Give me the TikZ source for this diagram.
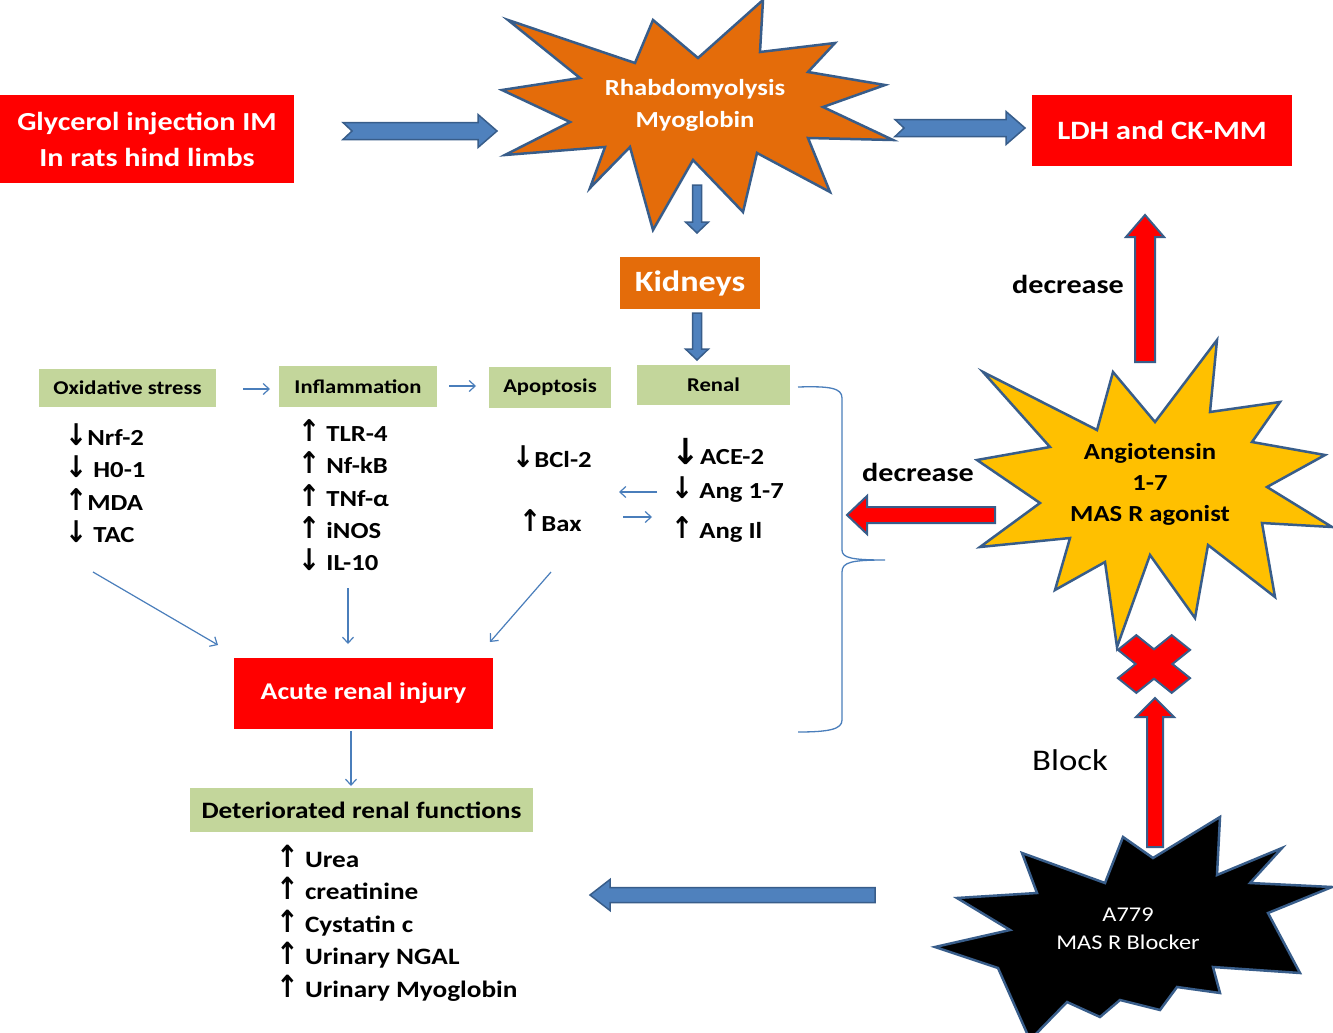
\documentclass[tikz,border=0pt]{standalone}
\usepackage{fontspec}
\usepackage{graphicx}
\setmainfont{Carlito}[FakeStretch=1.16]
\newfontfamily\arrfont{DejaVu Sans}
\usetikzlibrary{calc,arrows.meta}
\definecolor{bfill}{HTML}{4F81BD}
\definecolor{bline}{HTML}{385D8A}
\definecolor{rred}{HTML}{FF0000}
\definecolor{orng}{HTML}{E46C0A}
\definecolor{ylw}{HTML}{FFC000}
\definecolor{grn}{HTML}{C3D69B}
\definecolor{thinb}{HTML}{4A7EBB}
\newcommand{\uA}{\scalebox{1.15}[1.3]{\arrfont\bfseries ↑}}
\newcommand{\dA}{\scalebox{1.15}[1.3]{\arrfont\bfseries ↓}}
% [style]{from}{to}{shaft half}{head half}{head length}{notch}
\newcommand{\fatarrow}[7][]{%
  \coordinate (faB) at ($(#3)!#6!(#2)$);
  \path[#1] ($(#2)!#4!90:(#3)$) -- ($(faB)!#4!90:(#3)$) -- ($(faB)!#5!90:(#3)$) -- (#3)
    -- ($(faB)!#5!-90:(#3)$) -- ($(faB)!#4!-90:(#3)$) -- ($(#2)!#4!-90:(#3)$)
    -- ($(#2)!#7!(#3)$) -- cycle;
}
\tikzset{
  bluefat/.style={fill=bfill, draw=bline, line width=1.5pt, line join=miter},
  redfat/.style={fill=rred, draw=bline, line width=2pt, line join=miter},
  starline/.style={draw=bline, line width=2.5pt, line join=miter},
  redbox/.style={fill=rred, text=white, inner sep=0pt, font=\bfseries},
  grnbox/.style={fill=grn, text=black, inner sep=0pt, font=\bfseries},
  listtxt/.style={align=left, inner sep=0pt, anchor=north west, font=\bfseries},
  thinarrow/.style={draw=thinb, line width=1.2pt, -{Straight Barb[length=6pt,width=11pt]}},
}
\begin{document}
\begin{tikzpicture}[x=1pt,y=-1pt]
\useasboundingbox (0,0) rectangle (1333,1033);
\fill[white] (0,0) rectangle (1333,1033);

% stars
\draw[starline, fill=orng] (508,20) -- (635,63) -- (653,20) -- (698,58) -- (763,0) -- (760,52) -- (835,43) -- (808,72) -- (885,85) -- (823,107) -- (893,140) -- (808,138) -- (830,192) -- (757,153) -- (743,212) -- (693,160) -- (653,230) -- (630,147) -- (590,188) -- (605,147) -- (505,155) -- (570,122) -- (502,90) -- (580,78) -- cycle;
\draw[starline, fill=ylw] (983,372) -- (1097,430) -- (1113,372) -- (1155,422) -- (1217,340) -- (1210,412) -- (1280,402) -- (1252,442) -- (1325,455) -- (1267,487) -- (1332,527) -- (1262,523) -- (1275,597) -- (1208,545) -- (1195,618) -- (1150,555) -- (1117,647) -- (1105,562) -- (1055,590) -- (1070,538) -- (980,547) -- (1040,503) -- (977,460) -- (1050,447) -- cycle;
\draw[starline, fill=black] (957,898) -- (1037,893) -- (1022,853) -- (1105,883) -- (1123,837) -- (1153,858) -- (1220,817) -- (1217,875) -- (1282,848) -- (1250,883) -- (1332,887) -- (1268,913) -- (1300,973) -- (1213,967) -- (1220,993) -- (1177,987) -- (1160,1010) -- (1120,1000) -- (1100,1017) -- (1067,1002) -- (1030,1040) -- (998,968) -- (935,947) -- (1010,930) -- cycle;

% boxes
\node[redbox, minimum width=294pt, minimum height=88pt, align=center,
  font=\bfseries\fontsize{26}{36}\selectfont] (gly) at (147,139) {Glycerol injection IM\\In rats hind limbs};
\node[align=center, text=white, font=\bfseries\fontsize{23}{32}\selectfont] (rhab) at (695,105) {Rhabdomyolysis\\Myoglobin};
\node[redbox, minimum width=260pt, minimum height=71pt, font=\bfseries\fontsize{26.5}{32}\selectfont] (ldh) at (1162,130) {LDH and CK-MM};
\node[fill=orng, text=white, inner sep=0pt, minimum width=140pt, minimum height=52pt, font=\bfseries\fontsize{29.5}{34}\selectfont] (kid) at (690,283) {Kidneys};

\node[grnbox, minimum width=177pt, minimum height=38pt, font=\bfseries\fontsize{19.5}{22}\selectfont] (ox) at (127.5,388) {Oxidative stress};
\node[grnbox, minimum width=158pt, minimum height=41pt, font=\bfseries\fontsize{19.5}{22}\selectfont] (infl) at (358,386.5) {Inflammation};
\node[grnbox, minimum width=122pt, minimum height=41pt, font=\bfseries\fontsize{19.5}{22}\selectfont] (apop) at (550,387.5) {Apoptosis};
\node[grnbox, minimum width=153pt, minimum height=40pt, font=\bfseries\fontsize{19.5}{22}\selectfont] (ren) at (713.5,385) {Renal};

\node[listtxt, font=\bfseries\fontsize{23}{32.3}\selectfont] (oxl) at (65,423.5) {\dA Nrf-2\\\dA\ H0-1\\\uA MDA\\\dA\ TAC};
\node[listtxt, font=\bfseries\fontsize{23}{32.3}\selectfont] (infll) at (298,419.5) {\uA\ TLR-4\\\uA\ Nf-kB\\\uA\ TNf-α\\\uA\ iNOS\\\dA\ IL-10};
\node[listtxt, font=\bfseries\fontsize{23}{32}\selectfont] (bcl) at (512,445.5) {\dA BCl-2};
\node[listtxt, font=\bfseries\fontsize{23}{32}\selectfont] (bax) at (519,509) {\uA Bax};
\node[listtxt, font=\bfseries\fontsize{23}{34}\selectfont] (renl) at (671,438) {\scalebox{1.3}[1.2]{\dA}ACE-2\\\dA\ Ang 1-7\\[6pt]\uA\ Ang Il};

\node[redbox, minimum width=259pt, minimum height=71pt, font=\bfseries\fontsize{24}{28}\selectfont] (acute) at (363.5,693.5) {Acute renal injury};
\node[grnbox, minimum width=343pt, minimum height=44pt, font=\bfseries\fontsize{23.5}{28}\selectfont] (det) at (361.5,810) {Deteriorated renal functions};
\node[listtxt, font=\bfseries\fontsize{23.5}{32.4}\selectfont] (detl) at (276,845) {\uA\ Urea\\\uA\ creatinine\\\uA\ Cystatin c\\\uA\ Urinary NGAL\\\uA\ Urinary Myoglobin};

\node[font=\bfseries\fontsize{26}{30}\selectfont] (dec1) at (1068,284) {decrease};
\node[font=\bfseries\fontsize{26}{30}\selectfont] (dec2) at (918,472) {decrease};
\node[font=\fontsize{30}{34}\selectfont] (blk) at (1070,760) {Block};
\node[align=center, font=\bfseries\fontsize{23}{31}\selectfont] (ang) at (1150,484) {Angiotensin\\1-7\\MAS R agonist};
\node[align=center, text=white, font=\fontsize{21}{28}\selectfont] (a779) at (1128,929) {A779\\MAS R Blocker};

% fat arrows
\coordinate (g1) at (343,131); \coordinate (g2) at (497,131);
\coordinate (l1) at (895,128); \coordinate (l2) at (1025,128);
\coordinate (k1) at (697,185); \coordinate (k2) at (697,233);
\coordinate (k3) at (697,313); \coordinate (k4) at (697,360);
\coordinate (bt1) at (875,895); \coordinate (bt2) at (590,895);
\coordinate (r1) at (995,515); \coordinate (r2) at (847,515);
\coordinate (u1) at (1145,362); \coordinate (u2) at (1145,215);
\coordinate (x1) at (1155,847); \coordinate (x2) at (1155,698);
\fatarrow[bluefat]{g1}{g2}{8.5pt}{16.5pt}{19pt}{9pt}
\fatarrow[bluefat]{l1}{l2}{8.5pt}{16.5pt}{19pt}{9pt}
\fatarrow[bluefat]{k1}{k2}{4.5pt}{11.5pt}{11pt}{0pt}
\fatarrow[bluefat]{k3}{k4}{4.5pt}{11.5pt}{11pt}{0pt}
\fatarrow[bluefat]{bt1}{bt2}{7.5pt}{15.5pt}{20pt}{0pt}
\fatarrow[redfat]{r1}{r2}{8pt}{19pt}{20pt}{0pt}
\fatarrow[redfat]{u1}{u2}{10pt}{19pt}{22pt}{0pt}
\fatarrow[redfat]{x1}{x2}{8pt}{19pt}{19pt}{0pt}

% red X
\draw[fill=rred, draw=bline, line width=2pt, shift={(1154,664)}, yscale=0.8, rotate=45]
  (-13,38) -- (13,38) -- (13,13) -- (38,13) -- (38,-13) -- (13,-13) -- (13,-38) -- (-13,-38) -- (-13,-13) -- (-38,-13) -- (-38,13) -- (-13,13) -- cycle;

% thin arrows
\coordinate (t1a) at (243,389); \coordinate (t1b) at (270,389);
\coordinate (t2a) at (449,386); \coordinate (t2b) at (476,386);
\coordinate (t3a) at (657,492); \coordinate (t3b) at (619,492);
\coordinate (t4a) at (623,517); \coordinate (t4b) at (652,517);
\coordinate (t5a) at (93,572); \coordinate (t5b) at (218,645);
\coordinate (t6a) at (348,588); \coordinate (t6b) at (348,644);
\coordinate (t7a) at (551,572); \coordinate (t7b) at (490,642);
\coordinate (t8a) at (351,731); \coordinate (t8b) at (351,786);
\foreach \a/\b in {t1a/t1b,t2a/t2b,t3a/t3b,t4a/t4b,t5a/t5b,t6a/t6b,t7a/t7b,t8a/t8b}
  \draw[thinarrow] (\a) -- (\b);

% brace
\draw[thinb, line width=1.3pt] (798,387) .. controls (830,386) and (842,388) .. (842,398) -- (842,550)
  .. controls (842,558) and (852,560) .. (885,560)
  .. controls (852,560) and (842,562) .. (842,572) -- (842,720)
  .. controls (842,729) and (830,732) .. (798,732);
\end{tikzpicture}
\end{document}
